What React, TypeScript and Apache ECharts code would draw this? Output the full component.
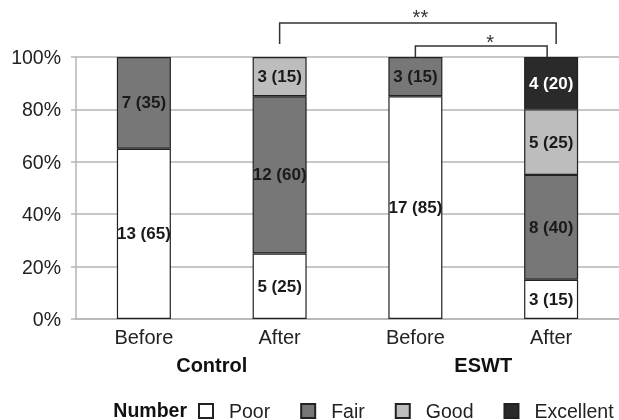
import React, { useEffect, useRef } from "react";
import * as echarts from "echarts";

const categories = ["Before", "After", "Before", "After"];
const groups = ["Control", "ESWT"];
const seriesNames = ["Poor", "Fair", "Good", "Excellent"];
const poorPct = [65, 25, 85, 15];
const fairPct = [35, 60, 15, 40];
const goodPct = [null, 15, null, 25];
const excellentPct = [null, null, null, 20];
const poorN = [13, 5, 17, 3];
const fairN = [7, 12, 3, 8];
const goodN = [null, 3, null, 5];
const excellentN = [null, null, null, 4];
const yTicks = [0, 20, 40, 60, 80, 100];

const colors = ["#ffffff", "#777777", "#bdbdbd", "#2a2a2a"];
const labelColors = ["#1a1a1a", "#1a1a1a", "#1a1a1a", "#ffffff"];

export default function App() {
  const ref = useRef<HTMLDivElement>(null);
  useEffect(() => {
    if (!ref.current) return;
    const chart = echarts.init(ref.current, null, { renderer: "svg" });
    const pcts = [poorPct, fairPct, goodPct, excellentPct];
    const counts = [poorN, fairN, goodN, excellentN];
    const font = "Liberation Sans, Arial, sans-serif";
    chart.setOption({
      animation: false,
      textStyle: { fontFamily: font },
      grid: { left: 76, right: 0, top: 57, bottom: 101, containLabel: false },
      legend: {
        data: seriesNames,
        left: 193,
        top: 396,
        width: 800,
        itemWidth: 14,
        itemHeight: 14,
        itemGap: 30,
        icon: "rect",
        formatter: "{g|}{t|{name}}",
        textStyle: {
          fontSize: 19.5,
          color: "#222",
          fontFamily: font,
          rich: {
            g: { width: 11, height: 14 },
            t: { fontSize: 19.5, lineHeight: 16, color: "#222", fontFamily: font },
          },
        },
      },
      xAxis: [
        {
          type: "category",
          data: categories,
          axisLine: { show: true, lineStyle: { color: "#b5b5b5", width: 1.5 } },
          axisTick: { show: false },
          axisLabel: { fontSize: 20, color: "#222", margin: 8 },
        },
        {
          type: "category",
          data: groups,
          position: "bottom",
          offset: 28,
          axisLine: { show: false },
          axisTick: { show: false },
          axisLabel: { fontSize: 20, color: "#111", fontWeight: "bold", margin: 8 },
        },
      ],
      yAxis: {
        type: "value",
        min: yTicks[0],
        max: yTicks[yTicks.length - 1],
        interval: 20,
        axisLine: { show: true, lineStyle: { color: "#b5b5b5", width: 1.5 } },
        axisTick: { show: true, length: 5, lineStyle: { color: "#b5b5b5", width: 1.5 } },
        splitLine: { lineStyle: { color: "#b5b5b5", width: 1.5 } },
        axisLabel: { fontSize: 19.5, color: "#222", formatter: "{value}%", margin: 15 },
      },
      series: seriesNames.map((name, si) => ({
        name,
        type: "bar",
        stack: "total",
        xAxisIndex: 0,
        barWidth: 54,
        data: pcts[si],
        itemStyle: { color: colors[si], borderColor: "#222", borderWidth: 1.2 },
        label: {
          show: true,
          position: "inside",
          fontSize: 17,
          fontWeight: "bold",
          fontFamily: "Liberation Sans Narrow, Arial Narrow, sans-serif",
          color: labelColors[si],
          formatter: (p: any) => `${counts[si][p.dataIndex]} (${p.value})`,
        },
      })),
    });

    const cx = (i: number) => chart.convertToPixel({ xAxisIndex: 0 }, i) as number;
    const yTop = chart.convertToPixel({ yAxisIndex: 0 }, 100) as number;
    const lineStyle = { stroke: "#333", lineWidth: 1.5, fill: null };
    const x1 = cx(1), x2 = cx(2), x3 = cx(3);
    chart.setOption({
      graphic: [
        {
          type: "polyline",
          shape: { points: [[x1, yTop - 13], [x1, yTop - 34], [x3 + 5, yTop - 34], [x3 + 5, yTop - 13]] },
          style: lineStyle,
        },
        {
          type: "polyline",
          shape: { points: [[x2, yTop], [x2, yTop - 11], [x3 - 4, yTop - 11], [x3 - 4, yTop]] },
          style: lineStyle,
        },
        {
          type: "text",
          x: (x1 + x3) / 2 + 5,
          y: yTop - 50,
          style: { text: "**", fill: "#333", fontSize: 20, fontFamily: font, align: "center", verticalAlign: "top" },
        },
        {
          type: "text",
          x: (x2 + x3) / 2 + 7,
          y: yTop - 25,
          style: { text: "*", fill: "#333", fontSize: 20, fontFamily: font, align: "center", verticalAlign: "top" },
        },
        {
          type: "text",
          x: 187,
          y: 409.5,
          style: { text: "Number", fill: "#111", fontSize: 19.5, lineHeight: 16, fontWeight: "bold", fontFamily: font, align: "right", verticalAlign: "middle" },
        },
      ],
    });
    return () => chart.dispose();
  }, []);
  return <div ref={ref} style={{ position: "fixed", left: 0, top: 0, width: 619, height: 420 }} />;
}
